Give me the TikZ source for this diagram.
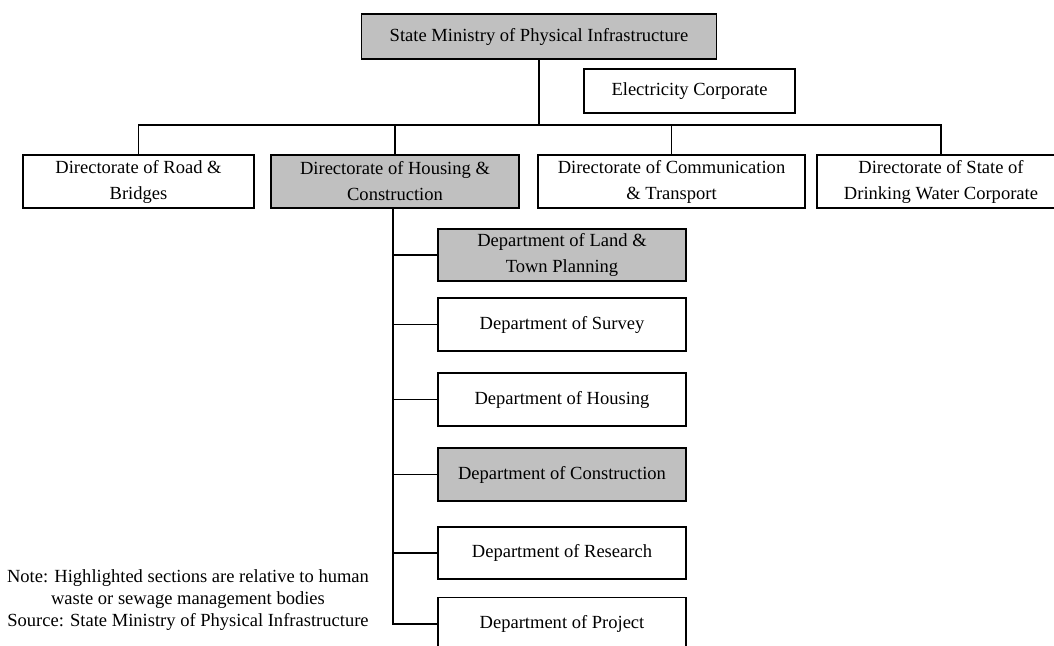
\documentclass[tikz,border=0pt]{standalone}
\usepackage{fontspec}
\setmainfont{Liberation Serif}
\definecolor{boxgray}{RGB}{192,192,192}
\begin{document}
\begin{tikzpicture}[x=0.75pt,y=-0.75pt,
  box/.style={draw=black,line width=1.4pt,fill=white,inner sep=0pt,align=center,
    font=\fontsize{13.9}{19.5}\selectfont,minimum height=39.75pt},
  hl/.style={fill=boxgray},
  conn/.style={line width=1.2pt}]
\useasboundingbox (0,0) rectangle (1054,646);
\clip (0,0) rectangle (1054,646);
% top level
\node[box,hl,minimum width=266.25pt,minimum height=33.75pt] (top) at (539,36.5) {State Ministry of Physical Infrastructure};
\node[box,minimum width=158.25pt,minimum height=33pt] (elec) at (689.5,91) {Electricity Corporate};
% directorates
\node[box,minimum width=173.25pt] (road) at (138.5,181.5) {Directorate of Road \&\\Bridges};
\node[box,hl,minimum width=186pt] (hous) at (395,181.5) {Directorate of Housing \&\\Construction};
\node[box,minimum width=200.25pt] (comm) at (671.5,181.5) {Directorate of Communication\\\& Transport};
\node[box,minimum width=186pt] (water) at (941,181.5) {Directorate of State of\\Drinking Water Corporate};
% departments
\node[box,hl,minimum width=186pt,minimum height=39pt] (land) at (562,255) {Department of Land \&\\Town Planning};
\node[box,minimum width=186pt] (survey) at (562,324.5) {Department of Survey};
\node[box,minimum width=186pt] (dhous) at (562,399.5) {Department of Housing};
\node[box,hl,minimum width=186pt] (constr) at (562,474.5) {Department of Construction};
\node[box,minimum width=186pt,minimum height=39pt] (research) at (562,553) {Department of Research};
\node[box,minimum width=186pt] (project) at (562,624) {Department of Project};
% connectors
\coordinate (bus) at (539,125);
\coordinate (spine) at (393,208);
\draw[conn] (top.south) -- (bus);
\draw[conn] (road.north) -- (road.north |- bus) -- (water.north |- bus) -- (water.north);
\draw[conn] (hous.north) -- (hous.north |- bus);
\draw[conn] (comm.north) -- (comm.north |- bus);
\draw[conn] (spine) -- (spine |- project.west) -- (project.west);
\draw[conn] (spine |- land.west) -- (land.west);
\draw[conn] (spine |- survey.west) -- (survey.west);
\draw[conn] (spine |- dhous.west) -- (dhous.west);
\draw[conn] (spine |- constr.west) -- (constr.west);
\draw[conn] (spine |- research.west) -- (research.west);
% note
\node[align=center,inner sep=0pt,font=\fontsize{13.9}{16.5}\selectfont] (note) at (188,600)
  {Note: Highlighted sections are relative to human\\waste or sewage management bodies\\Source: State Ministry of Physical Infrastructure};
\end{tikzpicture}
\end{document}
